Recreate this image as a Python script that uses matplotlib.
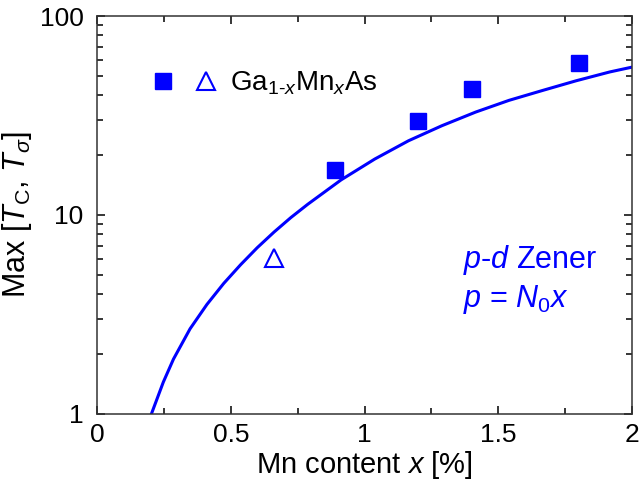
import matplotlib
matplotlib.use("Agg")
import matplotlib.pyplot as plt
from matplotlib.legend_handler import HandlerTuple
from matplotlib.ticker import FixedLocator, MultipleLocator, FuncFormatter, LogLocator, NullFormatter

plt.rcParams['font.family'] = ['Liberation Sans', 'DejaVu Sans']
plt.rcParams['mathtext.fontset'] = 'custom'
plt.rcParams['mathtext.rm'] = 'Liberation Sans'
plt.rcParams['mathtext.it'] = 'Liberation Sans:italic'
plt.rcParams['mathtext.sf'] = 'Liberation Sans'

# --- data ---
# filled squares (Ga1-xMnxAs)
sq_x = [0.89, 1.20, 1.40, 1.80]
sq_y = [16.9, 29.7, 42.8, 57.8]

# open triangle
tri_x = [0.66]
tri_y = [6.04]

# p-d Zener model curve, p = N0 x
zener_x = [0.203, 0.247, 0.285, 0.347, 0.410, 0.473, 0.536, 0.598, 0.661,
           0.724, 0.787, 0.912, 1.038, 1.164, 1.289, 1.415, 1.540, 1.666,
           1.791, 1.917, 2.0]
zener_y = [1.0, 1.44, 1.88, 2.67, 3.54, 4.52, 5.61, 6.83, 8.19,
           9.69, 11.3, 15.0, 19.1, 23.6, 28.1, 32.9, 37.7, 42.3,
           47.3, 52.4, 55.4]

BLUE = '#0000ff'

fig = plt.figure(figsize=(6.4, 4.9), dpi=100)
ax = fig.add_axes([0.152, 0.156, 0.8355, 0.811])

ax.plot(zener_x, zener_y, color=BLUE, lw=2.2, zorder=2)
sq, = ax.plot(sq_x, sq_y, 's', color=BLUE, ms=12, mec=BLUE, ls='none', zorder=3)
tri, = ax.plot(tri_x, tri_y, '^', mfc='white', mec=BLUE, mew=1.5, ms=13,
               ls='none', zorder=3)

ax.set_yscale('log')
ax.set_xlim(0, 2)
ax.set_ylim(1, 100)

ax.xaxis.set_major_locator(MultipleLocator(0.5))
ax.xaxis.set_minor_locator(MultipleLocator(0.25))
ax.xaxis.set_major_formatter(FuncFormatter(lambda v, p: '%g' % v))
ax.yaxis.set_major_locator(FixedLocator([1, 10, 100]))
ax.yaxis.set_major_formatter(FuncFormatter(lambda v, p: '%g' % v))
ax.yaxis.set_minor_locator(LogLocator(base=10, subs=range(2, 10)))
ax.yaxis.set_minor_formatter(NullFormatter())

ax.tick_params(which='both', direction='in', top=True, right=True,
               width=1.1, labelsize=19)
ax.tick_params(which='major', length=6)
ax.tick_params(which='minor', length=4.5)
ax.tick_params(axis='x', pad=7)
ax.tick_params(axis='y', pad=10)
for s in ax.spines.values():
    s.set_linewidth(1.1)
    s.set_color('#333333')

ax.set_xlabel('Mn content $\\mathit{x}$ [%]', fontsize=21, labelpad=1)
ax.set_ylabel('Max [$\\mathit{T}_{\\mathrm{C}}$, $\\mathit{T}_{\\sigma}$]',
              fontsize=22, labelpad=4)

ax.legend([(sq, tri)], ['Ga$_{\\mathit{1\\text{-}x}}$Mn$_{\\mathit{x}}$As'],
          handler_map={tuple: HandlerTuple(ndivide=None, pad=0.7)},
          loc='center left', bbox_to_anchor=(0.1005, 0.831), frameon=False,
          borderpad=0, borderaxespad=0,
          fontsize=20, handlelength=2.4, handletextpad=0.46)

ax.text(0.684, 0.366, '$\\mathit{p}$-$\\mathit{d}$ Zener', color=BLUE,
        fontsize=22, va='baseline', transform=ax.transAxes)
ax.text(0.684, 0.268, '$\\mathit{p}$ = $\\mathit{N}_{\\mathrm{0}}\\mathit{x}$',
        color=BLUE, fontsize=22, va='baseline', transform=ax.transAxes)

fig.savefig('out.png', dpi=100)
